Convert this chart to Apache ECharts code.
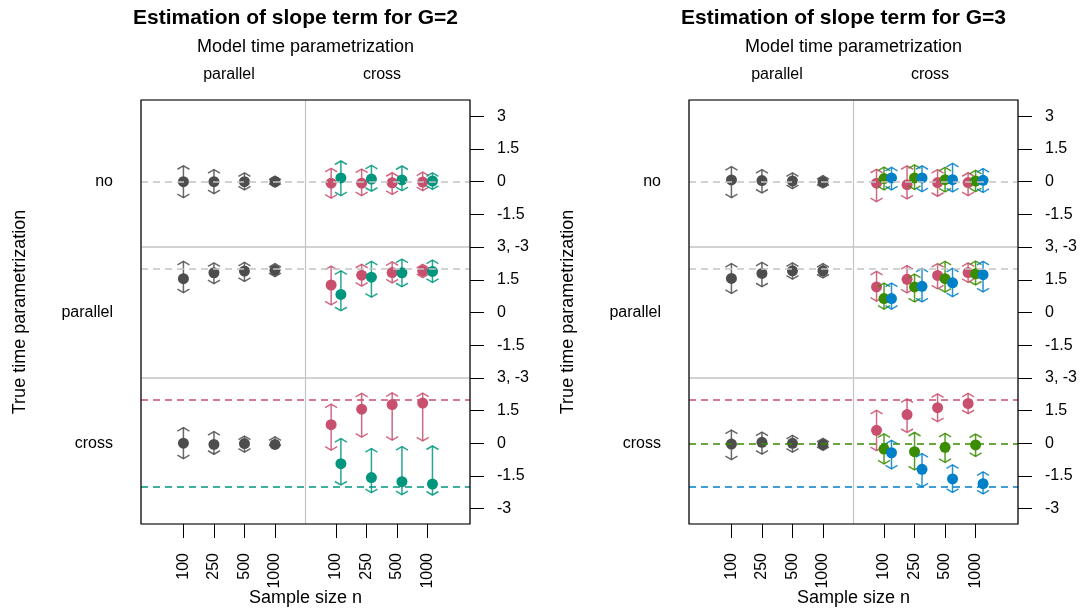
<!DOCTYPE html>
<html>
<head>
<meta charset="utf-8">
<script src="https://cdn.jsdelivr.net/npm/echarts@6/dist/echarts.min.js"></script>
<style>
html, body { margin: 0; padding: 0; background: #fff; }
#main { width: 1081px; height: 610px; }
</style>
</head>
<body>
<div id="main"></div>
<script>
"use strict";

/*****Data start*****/
var sampleSizes = ['100', '250', '500', '1000'];
var rowNames = ['no', 'parallel', 'cross'];
var colNames = ['parallel', 'cross'];

// each entry: [estimate, lower, upper] for n = 100, 250, 500, 1000
// G = 2
var g2NoGrey    = [[0.00, -0.73, 0.73], [0.00, -0.55, 0.55], [0.00, -0.38, 0.40], [0.00, -0.25, 0.25]];
var g2NoPink    = [[-0.07, -0.76, 0.61], [-0.07, -0.64, 0.58], [-0.05, -0.58, 0.41], [-0.02, -0.41, 0.44]];
var g2NoTeal    = [[0.17, -0.64, 0.95], [0.12, -0.44, 0.75], [0.08, -0.41, 0.72], [0.03, -0.35, 0.40]];
var g2ParGrey   = [[1.55, 0.91, 2.34], [1.82, 1.32, 2.27], [1.90, 1.43, 2.30], [1.94, 1.64, 2.24]];
var g2ParPink   = [[1.26, 0.35, 2.12], [1.71, 1.21, 2.21], [1.83, 1.36, 2.32], [1.91, 1.60, 2.20]];
var g2ParTeal   = [[0.83, 0.08, 1.91], [1.62, 0.70, 2.34], [1.82, 1.18, 2.44], [1.88, 1.38, 2.40]];
var g2CrossGrey = [[0.01, -0.70, 0.72], [-0.05, -0.50, 0.54], [-0.01, -0.40, 0.33], [-0.05, -0.23, 0.30]];
var g2CrossPink = [[0.86, -0.31, 1.80], [1.57, 0.29, 2.29], [1.78, 0.15, 2.32], [1.85, 0.11, 2.31]];
var g2CrossTeal = [[-0.93, -1.91, 0.22], [-1.57, -2.26, -0.24], [-1.76, -2.35, -0.15], [-1.87, -2.37, -0.12]];

// G = 3
var g3NoGrey     = [[0.08, -0.73, 0.69], [0.05, -0.52, 0.55], [0.03, -0.32, 0.40], [-0.01, -0.29, 0.28]];
var g3NoPink     = [[-0.07, -0.92, 0.57], [-0.14, -0.79, 0.73], [-0.04, -0.67, 0.55], [-0.04, -0.64, 0.41]];
var g3NoGreen    = [[0.14, -0.38, 0.67], [0.17, -0.35, 0.77], [0.09, -0.47, 0.66], [0.03, -0.46, 0.52]];
var g3NoBlue     = [[0.17, -0.38, 0.66], [0.17, -0.46, 0.73], [0.09, -0.47, 0.84], [0.06, -0.49, 0.60]];
var g3ParGrey    = [[1.56, 0.88, 2.24], [1.79, 1.18, 2.30], [1.91, 1.53, 2.27], [1.91, 1.58, 2.24]];
var g3ParPink    = [[1.17, 0.52, 1.88], [1.52, 0.90, 2.15], [1.70, 1.08, 2.24], [1.83, 1.38, 2.27]];
var g3ParGreen   = [[0.64, 0.15, 1.35], [1.17, 0.49, 1.76], [1.55, 0.93, 2.34], [1.77, 1.26, 2.35]];
var g3ParBlue    = [[0.64, 0.15, 1.35], [1.20, 0.49, 2.02], [1.36, 0.73, 2.02], [1.73, 0.94, 2.34]];
var g3CrossGrey  = [[-0.03, -0.75, 0.61], [0.05, -0.49, 0.52], [0.00, -0.40, 0.37], [-0.05, -0.32, 0.23]];
var g3CrossPink  = [[0.60, -0.33, 1.51], [1.32, 0.50, 2.04], [1.64, 1.00, 2.27], [1.83, 1.36, 2.29]];
var g3CrossGreen = [[-0.26, -0.94, 0.44], [-0.38, -1.22, 0.50], [-0.18, -0.87, 0.46], [-0.07, -0.60, 0.43]];
var g3CrossBlue  = [[-0.43, -1.17, 0.14], [-1.19, -2.00, -0.47], [-1.63, -2.25, -0.99], [-1.85, -2.32, -1.31]];

// true slope values per row
var trueNo = [0];
var truePar = [2];
var trueCrossG2 = [2, -2];
var trueCrossG3 = [2, 0, -2];

var yTicks = [3, 1.5, 0, -1.5, -3];
/*****Data end*****/

var GREY = '#4d4d4d', LIGHT = '#c4c4c4';
var PINK = '#c8506e', TEAL = '#00967d', GREEN = '#3a8c00', BLUE = '#0080c8';
var FONT = '"Liberation Sans", Arial, sans-serif';

var panels = [
	{
		title: 'Estimation of slope term for G=2',
		left: 141,
		colors: [PINK, TEAL],
		dodge: [-0.16, 0.16],
		rows: [
			[g2NoGrey, [g2NoPink, g2NoTeal]],
			[g2ParGrey, [g2ParPink, g2ParTeal]],
			[g2CrossGrey, [g2CrossPink, g2CrossTeal]]
		],
		truth: [
			[[trueNo[0], LIGHT]],
			[[truePar[0], LIGHT]],
			[[trueCrossG2[0], PINK], [trueCrossG2[1], TEAL]]
		]
	},
	{
		title: 'Estimation of slope term for G=3',
		left: 689,
		colors: [PINK, GREEN, BLUE],
		dodge: [-0.245, 0, 0.245],
		rows: [
			[g3NoGrey, [g3NoPink, g3NoGreen, g3NoBlue]],
			[g3ParGrey, [g3ParPink, g3ParGreen, g3ParBlue]],
			[g3CrossGrey, [g3CrossPink, g3CrossGreen, g3CrossBlue]]
		],
		truth: [
			[[trueNo[0], LIGHT]],
			[[truePar[0], LIGHT]],
			[[trueCrossG3[0], PINK], [trueCrossG3[1], GREEN], [trueCrossG3[2], BLUE]]
		]
	}
];

var panelWidth = 329;
var rowTop = [100, 247, 378];
var rowHeight = [147, 131, 146];
var yRange = [[-3, 3.75], [-3, 3], [-3.7, 3]];
var rowZeroY = [182, 313, 444];
var xMin = -0.39, xMax = 10.39;

/*****Error bar renderer*****/
var renderErrBar = function(params, api) {
	var x = api.value(0);
	var p = api.coord([x, api.value(1)]);
	var lo = api.coord([x, api.value(2)]);
	var hi = api.coord([x, api.value(3)]);
	var color = api.visual('color');
	var w = 6, h = 3.5;
	var ls = { stroke: color, lineWidth: 1.5, opacity: 0.85, fill: null };
	return {
		type: 'group',
		children: [
			{ type: 'line', shape: { x1: p[0], y1: hi[1], x2: p[0], y2: lo[1] }, style: ls },
			{ type: 'polyline', shape: { points: [[p[0] - w, hi[1] + h], [p[0], hi[1]], [p[0] + w, hi[1] + h]] }, style: ls },
			{ type: 'polyline', shape: { points: [[p[0] - w, lo[1] - h], [p[0], lo[1]], [p[0] + w, lo[1] - h]] }, style: ls },
			{ type: 'circle', shape: { cx: p[0], cy: p[1], r: 5.5 }, style: { fill: color } }
		]
	};
};

var grids = [], xAxes = [], yAxes = [], series = [], graphics = [];

panels.forEach(function(panel, pi) {
	var cx = panel.left + panelWidth / 2;
	[0, 1, 2].forEach(function(r) {
		var gi = pi * 3 + r;
		grids.push({
			left: panel.left, top: rowTop[r], width: panelWidth, height: rowHeight[r],
			show: true, borderColor: LIGHT, borderWidth: 1, backgroundColor: 'transparent'
		});
		var isBottom = (r === 2);
		xAxes.push({
			type: 'value', gridIndex: gi, min: xMin, max: xMax, position: 'bottom',
			splitLine: { show: false },
			axisLine: { show: false, onZero: false },
			axisTick: {
				show: isBottom, length: 14, customValues: [1, 2, 3, 4, 6, 7, 8, 9],
				lineStyle: { color: '#000', width: 1 }
			},
			axisLabel: {
				show: isBottom, rotate: 90, margin: 29, customValues: [1, 2, 3, 4, 6, 7, 8, 9],
				color: '#000', fontSize: 16, fontFamily: FONT,
				formatter: function(v) {
					var k = Math.round(v);
					return k < 5 ? sampleSizes[k - 1] : sampleSizes[k - 6];
				}
			}
		});
		var tickVals = r === 0 ? [3, 1.5, 0, -1.5] : (r === 1 ? yTicks : [1.5, 0, -1.5, -3]);
		yAxes.push({
			type: 'value', gridIndex: gi, position: 'right',
			min: yRange[r][0], max: yRange[r][1],
			splitLine: { show: false },
			axisLine: { show: false, onZero: false },
			axisTick: { show: true, length: 14, customValues: tickVals, lineStyle: { color: '#000', width: 1 } },
			axisLabel: {
				show: true, margin: 27, customValues: tickVals, align: 'left',
				color: '#000', fontSize: 16, fontFamily: FONT,
				formatter: function(v) {
					if (r === 1 && Math.abs(v) === 3) { return '3, -3'; }
					return String(v);
				}
			}
		});

		// reference lines and column separator
		var mlData = [{ xAxis: 5, lineStyle: { color: LIGHT, type: 'solid', width: 1.2 } }];
		panel.truth[r].forEach(function(t) {
			mlData.push({ yAxis: t[0], lineStyle: { color: t[1], type: [7, 5], width: 1.5 } });
		});
		series.push({
			type: 'line', xAxisIndex: gi, yAxisIndex: gi, data: [], z: 1,
			markLine: {
				silent: true, symbol: ['none', 'none'], animation: false,
				label: { show: false }, data: mlData
			}
		});

		// grey: parallel model column
		var rowData = panel.rows[r];
		series.push({
			type: 'custom', xAxisIndex: gi, yAxisIndex: gi, z: 3,
			itemStyle: { color: GREY },
			renderItem: renderErrBar,
			data: rowData[0].map(function(d, i) { return [i + 1, d[0], d[1], d[2]]; })
		});
		// coloured: cross model column
		rowData[1].forEach(function(grp, k) {
			series.push({
				type: 'custom', xAxisIndex: gi, yAxisIndex: gi, z: 3,
				itemStyle: { color: panel.colors[k] },
				renderItem: renderErrBar,
				data: grp.map(function(d, i) { return [i + 6 + panel.dodge[k], d[0], d[1], d[2]]; })
			});
		});

		// row label
		graphics.push({
			type: 'text', x: panel.left - 28, y: rowZeroY[r],
			style: { text: rowNames[r], font: '16px ' + FONT, fill: '#000',
				align: 'right', verticalAlign: 'middle', textAlign: 'right', textVerticalAlign: 'middle' }
		});
	});

	// outer box
	graphics.push({
		type: 'rect', z: 100,
		shape: { x: panel.left, y: rowTop[0], width: panelWidth, height: 424 },
		style: { fill: null, stroke: '#000', lineWidth: 1.2 }
	});
	// titles and headers
	var texts = [
		[panel.title, cx - 10, 18, 'bold 21px ' + FONT, 0],
		['Model time parametrization', cx, 47, '18px ' + FONT, 0],
		[colNames[0], panel.left + 88, 75, '16px ' + FONT, 0],
		[colNames[1], panel.left + 241, 75, '16px ' + FONT, 0],
		['Sample size n', cx, 598, '18px ' + FONT, 0],
		['True time parametrization', panel.left - 121, 312, '18px ' + FONT, Math.PI / 2]
	];
	texts.forEach(function(t) {
		graphics.push({
			type: 'text', x: t[1], y: t[2], rotation: t[4],
			style: { text: t[0], font: t[3], fill: '#000',
				align: 'center', verticalAlign: 'middle', textAlign: 'center', textVerticalAlign: 'middle' }
		});
	});
});

var chart = echarts.init(document.getElementById('main'));
chart.setOption({
	animation: false,
	backgroundColor: '#fff',
	grid: grids,
	xAxis: xAxes,
	yAxis: yAxes,
	series: series,
	graphic: graphics
});
</script>
</body>
</html>
